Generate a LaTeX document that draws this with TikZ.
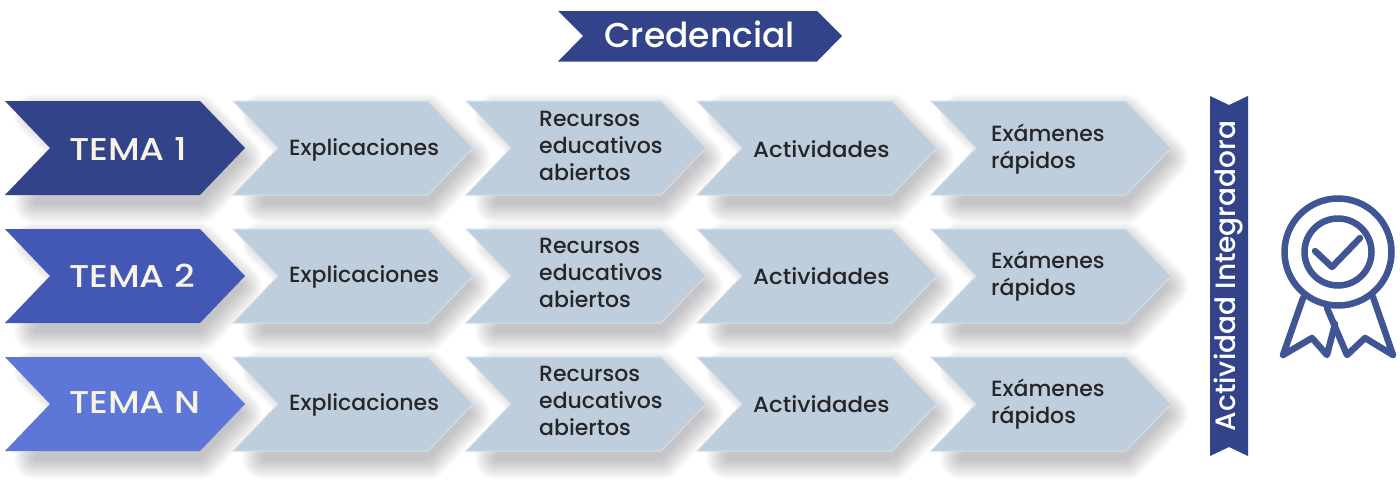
\documentclass[tikz,border=0pt]{standalone}
\usepackage{fontspec}
\setmainfont{Poppins Medium}
\newfontfamily\popwide[FakeStretch=1.14]{Poppins Medium}
\newfontfamily\popstep[FakeStretch=1.04]{Poppins Medium}
\definecolor{navy}{HTML}{33438A}
\definecolor{temab}{HTML}{4358B4}
\definecolor{temac}{HTML}{5C77D8}
\definecolor{pale}{HTML}{BFCEDD}
\definecolor{paleedge}{HTML}{D3DFEA}
\definecolor{cream}{HTML}{F8F4E4}
\definecolor{ink}{HTML}{262626}
\definecolor{medal}{HTML}{3F5594}
\definecolor{shade}{HTML}{4A4A55}
\tikzset{
  x=1pt,y=-1pt,
  softshade/.style={draw=shade,fill=shade,line join=round},
  temalabel/.style={font=\popwide\fontsize{31.5}{32}\selectfont,text=cream,anchor=west,inner sep=0pt},
  steplabel/.style={font=\fontsize{22}{27}\selectfont,text=ink,anchor=west,inner sep=0pt,align=left},
  actlabel/.style={steplabel,font=\popstep\fontsize{22}{27}\selectfont},
  bannerlabel/.style={font=\fontsize{34.5}{35}\selectfont,text=white,inner sep=0pt},
  medalline/.style={draw=medal,line width=6.5pt,line join=round,line cap=round},
}
% #1 x, #2 y
\newcommand{\chevshape}[2]{(#1,#2) -- ++(195,0) -- ++(45,47) -- ++(-45,47) -- ++(-195,0) -- ++(45,-47) -- cycle}
\newcommand{\shadeshape}[2]{(#1+30,#2+14) -- (#1+193,#2+14) -- (#1+236,#2+57) -- (#1+195,#2+101) -- (#1+30,#2+101) -- (#1+75,#2+57) -- cycle}
\newcommand{\chevshade}[2]{%
  \foreach \r in {42,39,...,3}{%
    \begin{scope}[transparency group,opacity=0.026]
      \draw[softshade,line width=\r pt] \shadeshape{#1}{#2};
    \end{scope}}}
\begin{document}
\begin{tikzpicture}
\useasboundingbox (0,0) rectangle (1400,501);
% shadows
\foreach \yy in {101,229,357}{
  \foreach \xx in {5,233,466,697,931}{
    \chevshade{\xx}{\yy}
  }
}
% chevrons
\foreach \yy/\col in {101/navy,229/temab,357/temac}{
  \fill[\col] \chevshape{5}{\yy};
  \foreach \xx in {233,466,697,931}{
    \fill[pale,draw=paleedge,line width=1pt,line join=miter] \chevshape{\xx}{\yy};
  }
}
% banners
\fill[navy] (558,11) -- (817,11) -- (842,36) -- (817,61.5) -- (558,61.5) -- (583,36) -- cycle;
\node[bannerlabel] (cred) at (699.5,34.5) {Credencial};
\fill[navy] (1210,96) -- (1229,105) -- (1248,96) -- (1248,456) -- (1229,447) -- (1210,456) -- cycle;
\node[bannerlabel,font=\fontsize{28}{28}\selectfont,rotate=90] (integ) at (1229,276) {Actividad Integradora};
% row labels
\node[temalabel] (t1) at (69,149) {TEMA 1};
\node[temalabel] (t2) at (69,275.5) {TEMA 2};
\node[temalabel] (tn) at (69,403) {TEMA N};
\foreach \yy/\rr in {148/a,275/b,403/c}{
  \node[steplabel] (ex\rr) at (289,\yy+1.5) {Explicaciones};
  \node[steplabel] (re\rr) at (539,\yy-2) {Recursos\\educativos\\abiertos};
  \node[actlabel] (ac\rr) at (753,\yy+1) {Actividades};
  \node[steplabel] (qz\rr) at (991,\yy+1) {Exámenes\\rápidos};
}
% medal
\draw[medalline,line cap=butt] (1338,252) circle (53.5);
\draw[medalline,line cap=butt] (1338,252) circle (33.5);
\draw[medalline] (1315,251) -- (1332,267) -- (1360,238);
\draw[medalline] (1303,298) -- (1283,355) -- (1312,338) -- (1327,355) -- (1335,324);
\draw[medalline] (1327,308) -- (1347,355) -- (1365,338) -- (1393,355) -- (1373,297);
\end{tikzpicture}
\end{document}
